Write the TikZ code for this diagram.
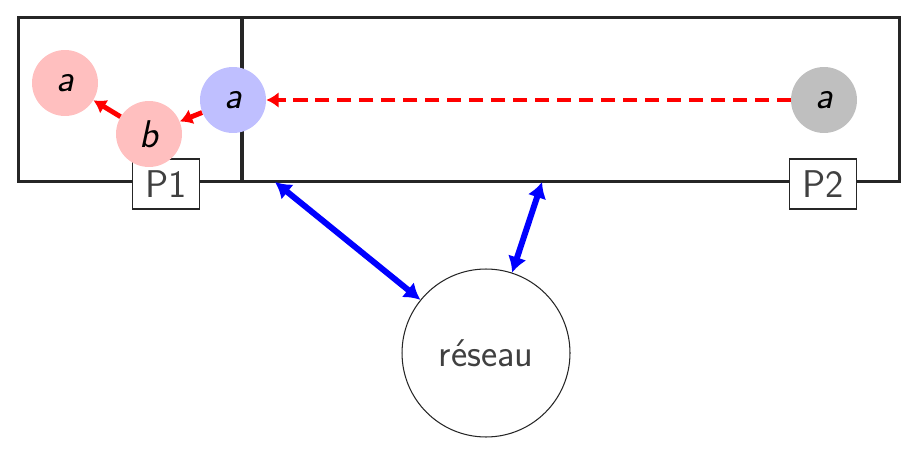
\documentclass[tikz,border=0pt]{standalone}
\usetikzlibrary{
  arrows.meta,
  calc,
  positioning
}
\tikzset{
  % For the two process zones.
  zone/.style={
    draw=black!85,
    line width=1.7pt,
    inner sep=0pt,
    outer sep=0pt,
    minimum height=3.3cm},
%
  % For the process names.
  tag/.style={
    draw=black!85,
    fill=white,
    line width=0.6pt,
    minimum width=1.34cm,
    minimum height=1cm,
    text=black!75,
    font=\sffamily\fontsize{22}{26}\selectfont},
%
  % For the variables held by a process.
  var/.style={
    circle,
    minimum size=1.32cm,
    inner sep=0pt,
    font=\sffamily\itshape\fontsize{22}{26}\selectfont},
  local/.style={
    var,
    fill=red!25},
  shared/.style={
    var,
    fill=blue!25},
  remote/.style={
    var,
    fill=black!25},
%
  % For copies between variables.
  copy/.style={
    red,
    line width=2.8pt,
    -{Latex[length=7pt,width=9pt]}},
  fetch/.style={
    copy,
    dash pattern=on 8pt off 4.5pt},
%
  % For the links with the network.
  link/.style={
    blue,
    line width=3.4pt,
    {Latex[length=9pt,width=11pt]}-{Latex[length=9pt,width=11pt]}},
%
  % For the network.
  net/.style={
    circle,
    draw=black!85,
    line width=0.6pt,
    minimum size=3.36cm,
    text=black!75,
    font=\sffamily\fontsize{22}{26}\selectfont}
}

\begin{document}
\begin{tikzpicture}[x=0.02cm, y=-0.02cm]
  \useasboundingbox (0,0) rectangle (918,452);

  \node[zone, minimum width=4.48cm] (zone1) at (130,99.5) {};
  \node[zone, minimum width=13.16cm] (zone2) at (571,99.5) {};

  \node[tag] (p1) at ($(zone1.south west) + (148,2)$) {P1};
  \node[tag] (p2) at ($(zone2.south east) + (-77,2)$) {P2};

  \node[local] (a1) at (65,83) {a};
  \node[local] (b) at (149,134) {b};
  \node[shared] (a2) at (233,100) {a};
  \node[remote] (a3) at (824,100) {a};

  \draw[copy] (b) -- (a1);
  \draw[copy] (a2) -- (b);
  \draw[fetch] (a3) -- (a2);

  \node[net] (reseau) at (486,353) {réseau};

  \coordinate (out1) at ($(zone2.south west) + (33,0)$);
  \coordinate (out2) at ($(zone2.south west) + (300,0)$);
  \draw[link] (out1) -- (reseau.141);
  \draw[link] (out2) -- (reseau.72);
\end{tikzpicture}
\end{document}
